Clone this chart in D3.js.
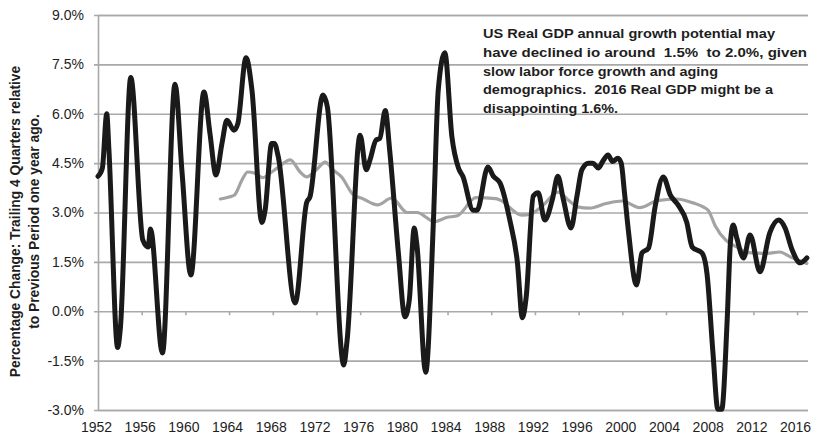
<!DOCTYPE html>
<html>
<head>
<meta charset="utf-8">
<script src="https://cdn.jsdelivr.net/npm/d3@7"></script>
<style>
  html, body { margin: 0; padding: 0; background: #ffffff; }
  svg { display: block; font-family: "Liberation Sans", Arial, sans-serif; }
  .note text { white-space: pre; }
</style>
</head>
<body>
<svg id="chart" width="817" height="445"></svg>
<script>
// ---- Data ----
const gdpYears = [1952.0,1952.4,1952.8,1953.0,1953.8,1954.05,1955.0,1956.1,1956.6,1956.8,1957.9,1959.05,1959.7,1960.5,1961.7,1962.25,1962.8,1963.35,1963.8,1964.45,1964.8,1965.55,1966.1,1967.0,1967.3,1967.9,1968.15,1968.5,1970.05,1971.1,1971.4,1972.6,1973.0,1974.5,1974.8,1976.0,1976.55,1976.9,1977.45,1977.8,1978.3,1978.7,1979.5,1980.1,1980.5,1980.95,1981.2,1982.0,1982.7,1983.15,1983.75,1984.4,1985.0,1985.4,1986.35,1986.7,1987.7,1988.2,1988.8,1989.7,1990.4,1990.85,1991.2,1991.85,1992.3,1992.9,1993.6,1994.1,1994.6,1995.3,1995.85,1996.3,1996.9,1997.3,1997.8,1998.2,1998.7,1999.1,1999.6,1999.9,2000.2,2000.55,2001.3,2001.8,2002.4,2003.0,2003.75,2004.4,2005.1,2005.9,2006.4,2007.3,2007.75,2008.3,2008.75,2009.1,2009.6,2009.9,2010.15,2010.5,2011.1,2011.7,2012.6,2013.5,2014.3,2014.9,2015.55,2016.3,2016.9];
const gdpGrowth = [4.1,4.35,6.0,4.9,-1.1,-0.5,7.1,2.17,1.95,2.5,-1.27,6.9,4.2,1.1,6.66,5.4,4.14,5.1,5.8,5.5,5.7,7.7,6.7,2.7,3.07,5.1,5.1,4.7,0.25,3.3,3.47,6.57,6.2,-1.63,-0.9,5.35,4.3,4.6,5.2,5.25,6.1,4.9,1.77,-0.17,0.35,2.53,2.0,-1.85,2.68,6.72,7.85,5.3,4.35,4.1,3.07,3.07,4.38,4.1,3.9,2.77,1.47,-0.2,0.43,3.5,3.6,2.77,3.4,4.1,3.4,2.53,3.5,4.3,4.5,4.5,4.35,4.55,4.75,4.55,4.65,4.5,3.6,2.47,0.8,1.77,1.92,3.17,4.08,3.53,3.23,2.7,1.95,1.77,1.15,-1.27,-2.98,-2.98,-0.27,2.1,2.62,2.2,1.62,2.32,1.2,2.38,2.77,2.53,1.86,1.47,1.62];

const avgYears = [1963.2,1964.0,1964.5,1965.2,1965.7,1966.3,1967.1,1967.9,1968.4,1969.6,1970.5,1971.1,1972.0,1972.8,1973.5,1974.3,1975.4,1976.1,1977.6,1978.9,1980.3,1981.2,1982.8,1983.9,1984.9,1986.6,1988.4,1988.8,1990.8,1991.6,1992.7,1994.1,1995.05,1995.9,1997.0,1998.6,2000.0,2001.6,2003.2,2005.0,2006.4,2007.4,2007.9,2008.5,2009.5,2010.5,2011.5,2013.3,2014.4,2015.4,2016.9];
const avgGrowth = [3.41,3.47,3.53,4.0,4.23,4.2,4.06,4.23,4.35,4.6,4.23,4.08,4.3,4.53,4.3,4.08,3.53,3.44,3.23,3.44,3.0,3.0,2.72,2.85,2.9,3.45,3.42,3.38,2.92,2.95,3.2,3.62,3.38,3.17,3.13,3.28,3.35,3.15,3.36,3.41,3.3,3.17,3.05,2.6,2.15,1.95,1.78,1.76,1.8,1.65,1.45];

const yTicks = [-3.0,-1.5,0.0,1.5,3.0,4.5,6.0,7.5,9.0];
const xTickYears = [1952,1956,1960,1964,1968,1972,1976,1980,1984,1988,1992,1996,2000,2004,2008,2012,2016];
const yTitleLines = ["Percentage Change: Trailing 4 Quarters relative", "to Previous Period one year ago."];
const noteLines = [
  "US Real GDP annual growth potential may",
  "have declined io around  1.5%  to 2.0%, given",
  "slow labor force growth and aging",
  "demographics.  2016 Real GDP might be a",
  "disappointing 1.6%."
];

// ---- Layout ----
const svg = d3.select("#chart");
const plot = { left: 98, right: 808, top: 15, bottom: 410 };

const x = d3.scaleLinear().domain([1952, 2017]).range([plot.left, plot.right]);
const y = d3.scaleLinear().domain([-3, 9]).range([plot.bottom, plot.top]);

const gridColor = "#a9a9a9";
const textColor = "#1e1e1e";

// gridlines + y axis ticks
const yAxis = d3.axisLeft(y).tickValues(yTicks)
  .tickFormat(d => d.toFixed(1) + "%")
  .tickSize(-(plot.right - plot.left)).tickPadding(14);
const gy = svg.append("g").attr("transform", `translate(${plot.left},0)`).call(yAxis);
gy.select(".domain").attr("stroke", gridColor).attr("stroke-width", 1.6);
gy.selectAll(".tick line").attr("stroke", gridColor).attr("stroke-width", 1.6).attr("x1", -4);
gy.selectAll(".tick text").attr("fill", textColor).style("font-size", "14px");

// x axis ticks at the 0% line
const xAxisTicks = d3.axisBottom(x).tickValues(xTickYears.slice(1)).tickSize(4).tickFormat("");
const gxt = svg.append("g").attr("transform", `translate(0,${y(0)})`).call(xAxisTicks);
gxt.select(".domain").remove();
gxt.selectAll(".tick line").attr("stroke", gridColor).attr("stroke-width", 1.6);

// x labels at bottom
const xAxisLabels = d3.axisBottom(x).tickValues(xTickYears).tickSize(0).tickPadding(12).tickFormat(d => String(d));
const gx = svg.append("g").attr("transform", `translate(-2,${plot.bottom})`).call(xAxisLabels);
gx.select(".domain").remove();
gx.selectAll(".tick text").attr("fill", textColor).style("font-size", "14px");

// lines
const line = d3.line().x(d => x(d[0])).y(d => y(d[1])).curve(d3.curveMonotoneX);

svg.append("path")
  .datum(avgYears.map((yr, i) => [yr, avgGrowth[i]]))
  .attr("fill", "none").attr("stroke", "#a3a3a3").attr("stroke-width", 3.2)
  .attr("stroke-linejoin", "round").attr("stroke-linecap", "round")
  .attr("d", line);

svg.append("path")
  .datum(gdpYears.map((yr, i) => [yr, gdpGrowth[i]]))
  .attr("fill", "none").attr("stroke", "#1a1a1a").attr("stroke-width", 5)
  .attr("stroke-linejoin", "round").attr("stroke-linecap", "round")
  .attr("d", line);

// y title
const yt = svg.append("text")
  .attr("transform", `translate(20,${(plot.top + plot.bottom) / 2 + 9}) rotate(-90)`)
  .attr("text-anchor", "middle").attr("fill", textColor)
  .style("font-size", "13.8px").style("font-weight", "bold");
yTitleLines.forEach((t, i) => yt.append("tspan").attr("x", 0).attr("dy", i === 0 ? 0 : 19).text(t));

// annotation
const noteWidths = [292, 324, 235, 290, 135];
const note = svg.append("g").attr("class", "note").attr("fill", textColor)
  .style("font-size", "13.5px").style("font-weight", "bold");
noteLines.forEach((t, i) => {
  note.append("text").attr("x", 483).attr("y", 38 + i * 18.8)
    .attr("textLength", noteWidths[i]).attr("lengthAdjust", "spacingAndGlyphs")
    .text(t);
});
</script>
</body>
</html>
